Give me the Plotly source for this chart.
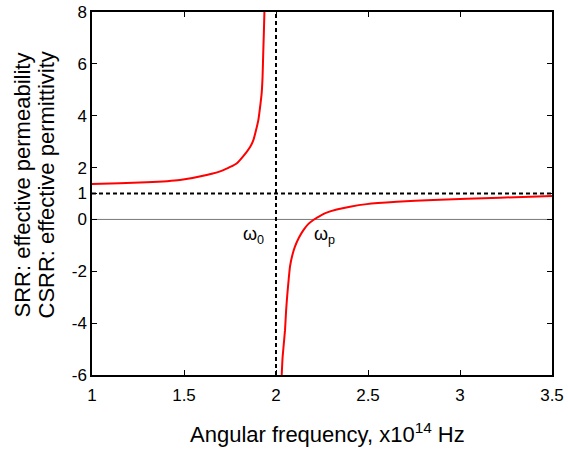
import plotly.graph_objects as go

# Upper branch (below resonance)
freq_upper = [1.0, 1.15, 1.297, 1.478, 1.623, 1.714, 1.786, 1.841, 1.86, 1.877, 1.89, 1.904, 1.913, 1.922, 1.927, 1.931, 1.934, 1.937]
perm_upper = [1.37, 1.40, 1.43, 1.52, 1.71, 1.90, 2.16, 2.61, 2.80, 3.06, 3.40, 3.83, 4.30, 4.86, 5.50, 6.5, 7.2, 8.0]
# Lower branch (above resonance)
freq_lower = [2.031, 2.036, 2.049, 2.055, 2.062, 2.069, 2.076, 2.088, 2.103, 2.125, 2.149, 2.175, 2.203, 2.24, 2.275, 2.33, 2.402, 2.493, 2.656, 2.855, 3.217, 3.5]
perm_lower = [-6.0, -5.3, -4.27, -3.5, -2.85, -2.3, -1.82, -1.4, -1.05, -0.7, -0.41, -0.18, -0.02, 0.14, 0.26, 0.38, 0.49, 0.59, 0.68, 0.75, 0.84, 0.90]

omega0 = 2.0
ref_level = 1.0
x_ticks = [1, 1.5, 2, 2.5, 3, 3.5]
x_ticklabels = ["1", "1.5", "2", "2.5", "3", "3.5"]
y_ticks = [-6, -4, -2, 0, 1, 2, 4, 6, 8]
y_ticklabels = ["-6", "-4", "-2", "0", "1", "2", "4", "6", "8"]
x_title = "Angular frequency, x10<sup>14</sup> Hz"
y_title_lines = ["SRR: effective permeability", "CSRR: effective permittivity"]

FONT = "Liberation Sans, Arial"
fig = go.Figure()

# zero line
fig.add_trace(go.Scatter(x=[1, 3.5], y=[0, 0], mode="lines",
                         line=dict(color="#777777", width=1), showlegend=False, hoverinfo="skip"))
# dashed reference lines
fig.add_trace(go.Scatter(x=[1, 3.5], y=[ref_level, ref_level], mode="lines",
                         line=dict(color="black", width=2, dash="4px,3px"), showlegend=False))
fig.add_trace(go.Scatter(x=[omega0, omega0], y=[-6, 8], mode="lines",
                         line=dict(color="black", width=2, dash="4px,3px"), showlegend=False))

fig.add_trace(go.Scatter(x=freq_upper, y=perm_upper, mode="lines",
                         line=dict(color="red", width=2, shape="spline", smoothing=0.4), showlegend=False))
fig.add_trace(go.Scatter(x=freq_lower, y=perm_lower, mode="lines",
                         line=dict(color="red", width=2, shape="spline", smoothing=0.4), showlegend=False))

fig.add_annotation(x=1.88, y=-0.62, text="ω<sub>0</sub>", showarrow=False,
                   font=dict(family=FONT, size=18, color="black"))
fig.add_annotation(x=2.266, y=-0.62, text="ω<sub>p</sub>", showarrow=False,
                   font=dict(family=FONT, size=18, color="black"))

# axis titles (placed as annotations for precise positioning)
fig.add_annotation(xref="paper", yref="paper", x=0.5, y=0, xanchor="center", yanchor="middle",
                   xshift=5, yshift=-58, text=x_title, showarrow=False,
                   font=dict(family=FONT, size=22, color="black"))
for i, (line, px) in enumerate(zip(y_title_lines, [22, 46])):
    fig.add_annotation(xref="paper", yref="paper", x=0, y=0.5, xanchor="center", yanchor="middle",
                       xshift=px - 92, yshift=8, text=line, textangle=-90, showarrow=False,
                       font=dict(family=FONT, size=22, color="black"))

fig.update_layout(
    width=568, height=451,
    margin=dict(l=92, r=16, t=12, b=76),
    paper_bgcolor="white", plot_bgcolor="white",
    font=dict(family=FONT, size=17, color="black"),
    xaxis=dict(range=[1, 3.5], tickvals=x_ticks, ticktext=x_ticklabels, automargin=False,
               showgrid=False, zeroline=False, showline=True, linecolor="black", linewidth=1.5,
               mirror="ticks", ticks="inside", ticklen=5, tickcolor="black", ticklabelstandoff=4),
    yaxis=dict(range=[-6, 8], tickvals=y_ticks, ticktext=y_ticklabels, automargin=False,
               showgrid=False, zeroline=False, showline=True, linecolor="black", linewidth=1.5,
               mirror="ticks", ticks="inside", ticklen=5, tickcolor="black"),
)

# remove the page's default 8px body margin so the figure sits at the window's corner
fig.write_html("out.html", config={"displayModeBar": False},
               post_script="document.body.style.margin='0';document.body.style.overflow='hidden';")
